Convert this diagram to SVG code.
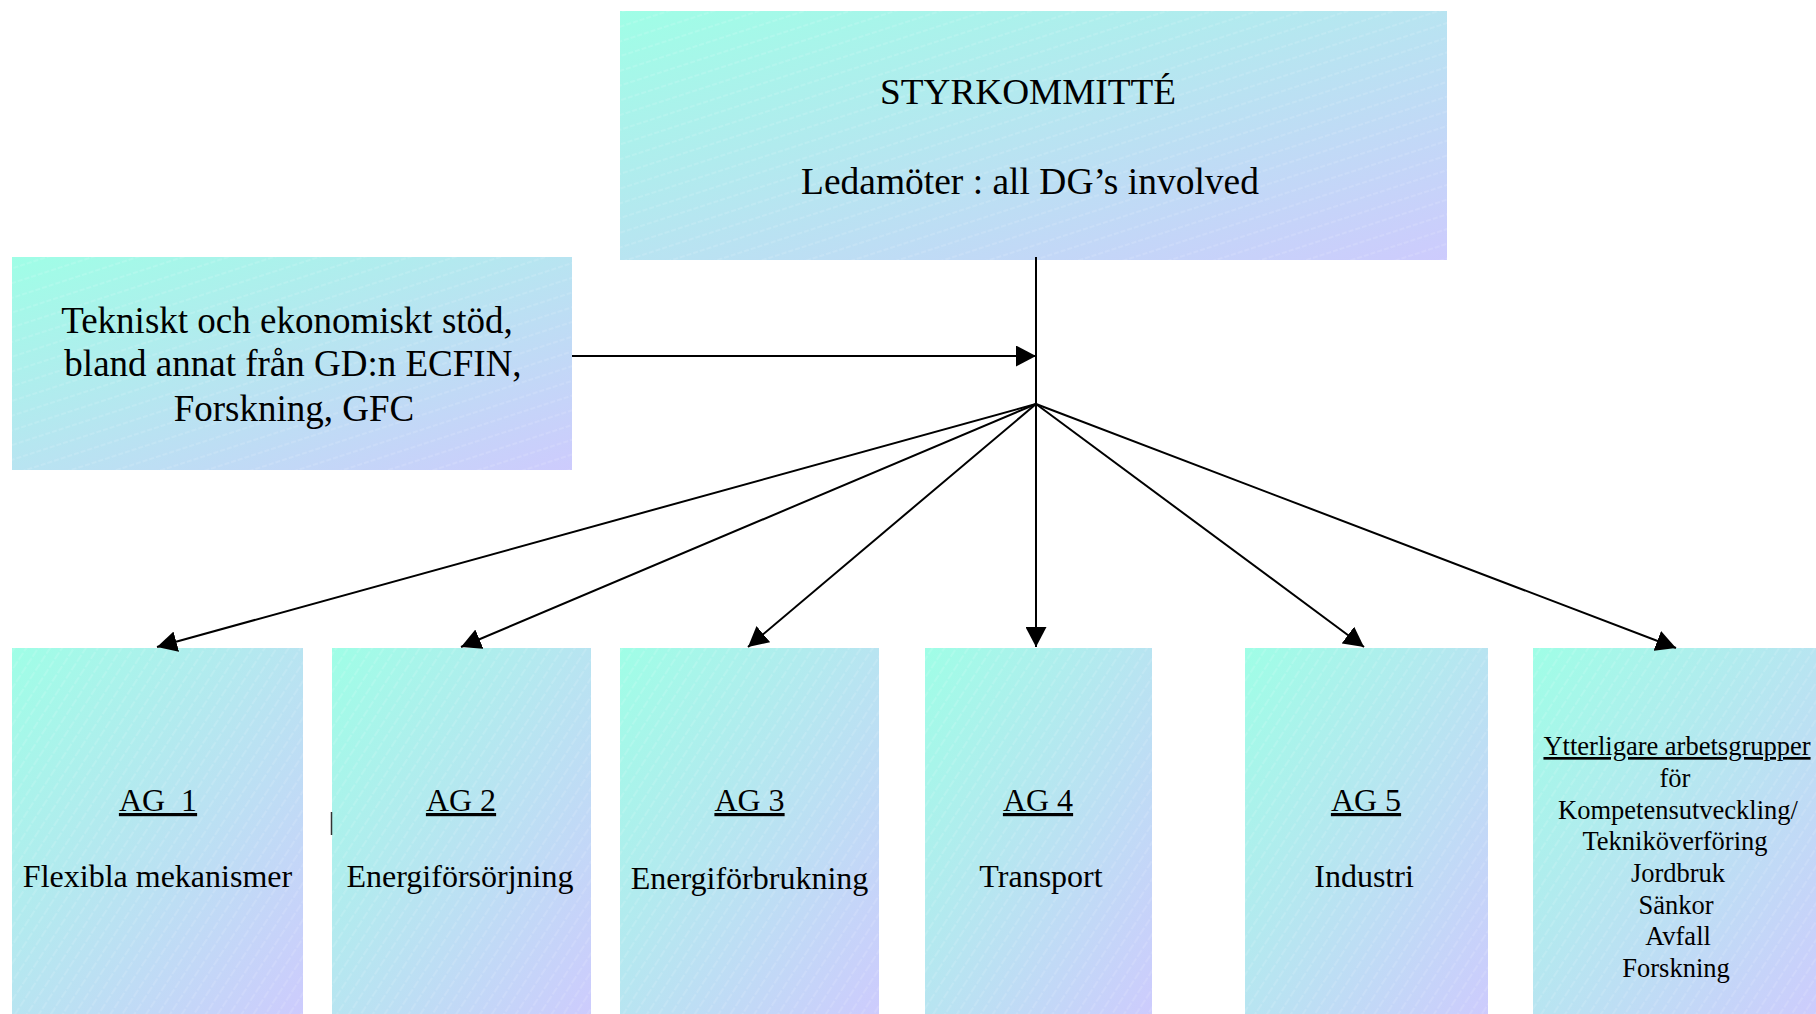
<svg xmlns="http://www.w3.org/2000/svg" width="1816" height="1014" viewBox="0 0 1816 1014">
<style>
  .box { stroke: none; }
  .t { font-family: "Liberation Serif", "Times New Roman", serif; fill: #000; text-anchor: middle; }
  .big { font-size: 37px; }
  .mid { font-size: 32px; }
  .sm { font-size: 26.5px; }
  .u { text-decoration: underline; }
  .conn { stroke: #000; stroke-width: 2; fill: none; }
</style>
<defs>
  <linearGradient id="grad" x1="0" y1="0" x2="1" y2="1">
    <stop offset="0" stop-color="#9ffee6"/>
    <stop offset="0.5" stop-color="#b8e4f1"/>
    <stop offset="1" stop-color="#cdcbfd"/>
  </linearGradient>
  <pattern id="hatchWide" width="14" height="14" patternUnits="userSpaceOnUse" patternTransform="rotate(-18)">
    <line x1="0" y1="7" x2="14" y2="7" stroke="#ffffff" stroke-opacity="0.3" stroke-width="0.8" stroke-dasharray="5 2"/>
  </pattern>
  <pattern id="hatchTall" width="10" height="10" patternUnits="userSpaceOnUse" patternTransform="rotate(-57)">
    <line x1="0" y1="5" x2="10" y2="5" stroke="#ffffff" stroke-opacity="0.3" stroke-width="0.8" stroke-dasharray="5 2"/>
  </pattern>
  <marker id="arr" markerUnits="userSpaceOnUse" markerWidth="20" markerHeight="21" refX="20" refY="10.5" orient="auto">
    <path d="M0,0 L20,10.5 L0,21 Z" fill="#000"/>
  </marker>
</defs>

<g id="styrkommitte">
  <rect class="box" x="620" y="11" width="827" height="249" fill="url(#grad)"/>
  <rect x="620" y="11" width="827" height="249" fill="url(#hatchWide)"/>
  <text class="t" x="1028" y="104" font-size="35" textLength="296" lengthAdjust="spacingAndGlyphs">STYRKOMMITTÉ</text>
  <text class="t big" x="1030" y="194" textLength="458" lengthAdjust="spacingAndGlyphs">Ledamöter : all DG’s involved</text>
</g>

<g id="stod">
  <rect class="box" x="12" y="257" width="560" height="213" fill="url(#grad)"/>
  <rect x="12" y="257" width="560" height="213" fill="url(#hatchWide)"/>
  <text class="t big" x="287" y="333">Tekniskt och ekonomiskt stöd,</text>
  <text class="t big" x="293" y="376">bland annat från GD:n ECFIN,</text>
  <text class="t big" x="294" y="421">Forskning, GFC</text>
</g>

<g id="ag1">
  <rect class="box" x="12" y="648" width="291" height="370" fill="url(#grad)"/>
  <rect x="12" y="648" width="291" height="370" fill="url(#hatchTall)"/>
  <text class="t mid u" x="158" y="811" xml:space="preserve">AG  1</text>
  <text class="t mid" x="157.5" y="887">Flexibla mekanismer</text>
</g>

<g id="ag2">
  <rect class="box" x="332" y="648" width="259" height="370" fill="url(#grad)"/>
  <rect x="332" y="648" width="259" height="370" fill="url(#hatchTall)"/>
  <text class="t mid u" x="461" y="811">AG 2</text>
  <text class="t mid" x="460" y="887">Energiförsörjning</text>
  <line x1="331.5" y1="812" x2="331.5" y2="835" stroke="#333" stroke-width="1.5"/>
</g>

<g id="ag3">
  <rect class="box" x="620" y="648" width="259" height="370" fill="url(#grad)"/>
  <rect x="620" y="648" width="259" height="370" fill="url(#hatchTall)"/>
  <text class="t mid u" x="749.5" y="811">AG 3</text>
  <text class="t mid" x="749.5" y="889">Energiförbrukning</text>
</g>

<g id="ag4">
  <rect class="box" x="925" y="648" width="227" height="370" fill="url(#grad)"/>
  <rect x="925" y="648" width="227" height="370" fill="url(#hatchTall)"/>
  <text class="t mid u" x="1038" y="811">AG 4</text>
  <text class="t mid" x="1041" y="887">Transport</text>
</g>

<g id="ag5">
  <rect class="box" x="1245" y="648" width="243" height="370" fill="url(#grad)"/>
  <rect x="1245" y="648" width="243" height="370" fill="url(#hatchTall)"/>
  <text class="t mid u" x="1366" y="811">AG 5</text>
  <text class="t mid" x="1364" y="887">Industri</text>
</g>

<g id="ag6">
  <rect class="box" x="1533" y="648" width="290" height="370" fill="url(#grad)"/>
  <rect x="1533" y="648" width="290" height="370" fill="url(#hatchTall)"/>
  <text class="t sm u" x="1677" y="755">Ytterligare arbetsgrupper</text>
  <text class="t sm" x="1675" y="787">för</text>
  <text class="t sm" x="1678" y="819">Kompetensutveckling/</text>
  <text class="t sm" x="1675" y="850">Tekniköverföring</text>
  <text class="t sm" x="1678" y="882">Jordbruk</text>
  <text class="t sm" x="1676" y="914">Sänkor</text>
  <text class="t sm" x="1678" y="945">Avfall</text>
  <text class="t sm" x="1676" y="977">Forskning</text>
</g>

<g id="connectors">
  <line class="conn" x1="1036" y1="257" x2="1036" y2="404"/>
  <line class="conn" x1="572" y1="356" x2="1036" y2="356" marker-end="url(#arr)"/>
  <line class="conn" x1="1036" y1="404" x2="157" y2="647" marker-end="url(#arr)"/>
  <line class="conn" x1="1036" y1="404" x2="461" y2="647" marker-end="url(#arr)"/>
  <line class="conn" x1="1036" y1="404" x2="748" y2="647" marker-end="url(#arr)"/>
  <line class="conn" x1="1036" y1="404" x2="1036" y2="647" marker-end="url(#arr)"/>
  <line class="conn" x1="1036" y1="404" x2="1364" y2="647" marker-end="url(#arr)"/>
  <line class="conn" x1="1036" y1="404" x2="1676" y2="648" marker-end="url(#arr)"/>
</g>
</svg>
